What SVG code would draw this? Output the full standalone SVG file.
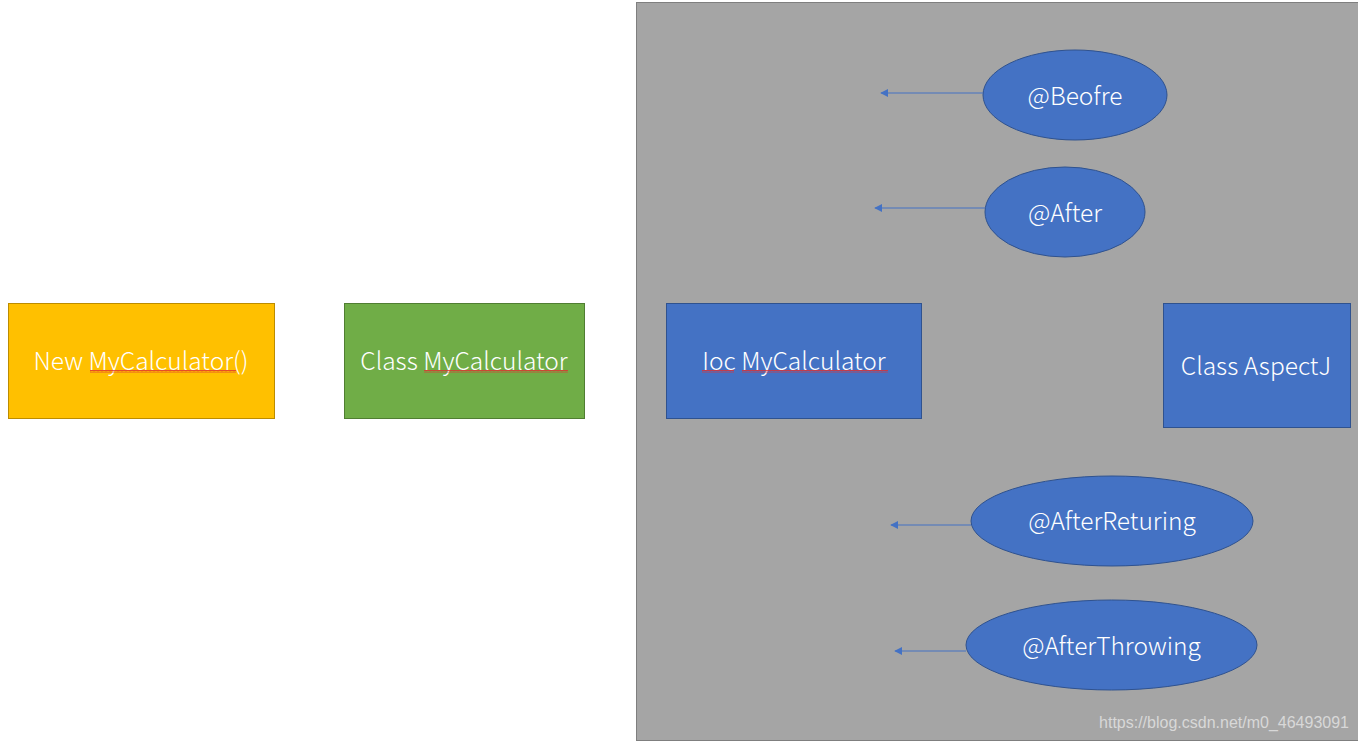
<svg xmlns="http://www.w3.org/2000/svg" width="1358" height="742" viewBox="0 0 1358 742">
<defs>
<style>
.lbl{font-family:"Noto Sans CJK SC","Noto Sans",sans-serif;font-size:24.5px;font-weight:300;fill:#ffffff;text-anchor:middle}
.blue{fill:#4472C4;stroke:#2F528F;stroke-width:1}
.con{stroke:#4472C4;stroke-width:1.2;fill:none}
</style>
<marker id="ah" viewBox="0 0 10 10" refX="9" refY="5" markerWidth="8" markerHeight="8" orient="auto-start-reverse" markerUnits="userSpaceOnUse">
<path d="M0,0 L10,5 L0,10 z" fill="#4472C4"/>
</marker>
<pattern id="wave" width="4" height="3" patternUnits="userSpaceOnUse">
<path d="M0,2.5 L1,0.5 L2,2.5 L3,0.5 L4,2.5" stroke="#E03030" stroke-width="0.8" fill="none"/>
</pattern>
</defs>
<rect x="0" y="0" width="1358" height="742" fill="#ffffff"/>
<g id="panel">
<rect x="636.5" y="2.5" width="730" height="738" fill="#A5A5A5" stroke="#7F7F7F" stroke-width="1"/>
</g>
<g id="new-mycalculator">
<rect x="8.5" y="303.5" width="266" height="115" fill="#FFC000" stroke="#BC8C00" stroke-width="1"/>
<text class="lbl" x="141" y="370">New MyCalculator()</text>
<rect x="90" y="370" width="146" height="3" fill="url(#wave)"/>
</g>
<g id="class-mycalculator">
<rect x="344.5" y="303.5" width="240" height="115" fill="#70AD47" stroke="#507E32" stroke-width="1"/>
<text class="lbl" x="464" y="370">Class MyCalculator</text>
<rect x="424" y="370" width="144" height="3" fill="url(#wave)"/>
</g>
<g id="ioc-mycalculator">
<rect class="blue" x="666.5" y="303.5" width="255" height="115"/>
<text class="lbl" x="794" y="370">Ioc MyCalculator</text>
<rect x="702" y="370" width="32" height="3" fill="url(#wave)"/>
<rect x="742" y="370" width="146" height="3" fill="url(#wave)"/>
</g>
<g id="class-aspectj">
<rect class="blue" x="1163.5" y="303.5" width="187" height="124"/>
<text class="lbl" x="1256" y="375">Class AspectJ</text>
</g>
<g id="before">
<ellipse class="blue" cx="1075" cy="95" rx="92" ry="45"/>
<text class="lbl" x="1075" y="105">@Beofre</text>
</g>
<g id="after">
<ellipse class="blue" cx="1065" cy="212" rx="80" ry="45"/>
<text class="lbl" x="1065" y="222">@After</text>
</g>
<g id="after-returning">
<ellipse class="blue" cx="1112" cy="521" rx="141" ry="45"/>
<text class="lbl" x="1112" y="530">@AfterReturing</text>
</g>
<g id="after-throwing">
<ellipse class="blue" cx="1111.5" cy="645" rx="145.5" ry="45"/>
<text class="lbl" x="1111.5" y="655">@AfterThrowing</text>
</g>
<g id="connectors">
<line class="con" x1="983" y1="93" x2="881" y2="93" marker-end="url(#ah)"/>
<line class="con" x1="985" y1="208" x2="875" y2="208" marker-end="url(#ah)"/>
<line class="con" x1="971" y1="525" x2="891" y2="525" marker-end="url(#ah)"/>
<line class="con" x1="966" y1="651" x2="895" y2="651" marker-end="url(#ah)"/>
</g>
<text x="1349" y="728" style="font-family:'Liberation Sans',Arial,sans-serif;font-size:16px;fill:#D8D8D8;text-anchor:end">https://blog.csdn.net/m0_46493091</text>
</svg>
